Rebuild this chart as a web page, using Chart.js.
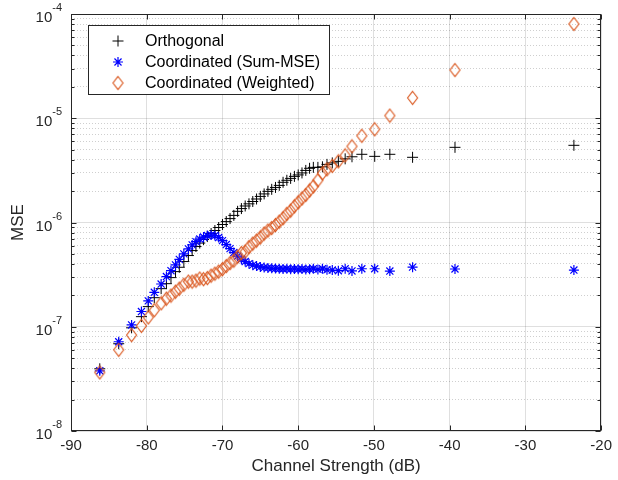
<!DOCTYPE html>
<html>
<head>
<meta charset="utf-8">
<script src="https://cdn.jsdelivr.net/npm/chart.js@4.4.1/dist/chart.umd.min.js"></script>
<style>
  html, body { margin: 0; padding: 0; background: #fff; }
  canvas { display: block; }
</style>
</head>
<body>
<canvas id="mseChart" width="618" height="480"></canvas>
<script>
// Channel strength in dB (x values shared by all three series)
const channelStrength = [
    -86.2, -83.7, -82.0, -80.7, -79.8, -79.0, -78.1, -77.4, -76.8, -76.2, -75.7, -75.1, -74.5, -74.0,
    -73.5, -73.0, -72.5, -72.0, -71.5, -71.0, -70.5, -70.0, -69.5, -69.0, -68.5, -68.0, -67.5, -67.0,
    -66.5, -66.0, -65.5, -65.0, -64.5, -64.0, -63.5, -63.0, -62.5, -62.0, -61.5, -61.0, -60.5, -60.0,
    -59.5, -59.0, -58.5,
    -58.0, -57.4, -56.8, -56.2, -55.5, -54.7, -53.8, -52.9, -51.6, -49.9, -47.9, -44.9, -39.3, -23.6
];

// MSE values
const orthogonalMse = [
    3.95e-8, 6.87e-8, 9.77e-8, 1.25e-7, 1.56e-7, 1.90e-7, 2.32e-7, 2.59e-7, 2.96e-7, 3.38e-7, 3.72e-7, 4.22e-7, 4.82e-7, 5.38e-7,
    5.88e-7, 6.35e-7, 6.87e-7, 7.33e-7, 7.84e-7, 8.38e-7, 8.95e-7, 9.57e-7, 1.02e-6, 1.09e-6, 1.17e-6, 1.28e-6, 1.36e-6, 1.44e-6,
    1.51e-6, 1.59e-6, 1.68e-6, 1.78e-6, 1.88e-6, 1.99e-6, 2.08e-6, 2.17e-6, 2.27e-6, 2.43e-6, 2.54e-6, 2.65e-6, 2.77e-6, 2.86e-6,
    2.99e-6, 3.16e-6, 3.31e-6,
    3.38e-6, 3.38e-6, 3.42e-6, 3.61e-6, 3.73e-6, 3.86e-6, 4.08e-6, 4.27e-6, 4.51e-6, 4.31e-6, 4.51e-6, 4.22e-6, 5.26e-6, 5.50e-6
];

const sumMse = [
    3.78e-8, 7.18e-8, 1.04e-7, 1.40e-7, 1.77e-7, 2.14e-7, 2.57e-7, 3.03e-7, 3.45e-7, 3.92e-7, 4.43e-7, 5.00e-7, 5.58e-7, 6.10e-7,
    6.56e-7, 6.94e-7, 7.25e-7, 7.50e-7, 7.58e-7, 7.50e-7, 7.17e-7, 6.70e-7, 6.14e-7, 5.62e-7, 5.15e-7, 4.76e-7, 4.45e-7, 4.22e-7,
    4.03e-7, 3.90e-7, 3.82e-7, 3.75e-7, 3.70e-7, 3.67e-7, 3.64e-7, 3.62e-7, 3.60e-7, 3.58e-7, 3.60e-7, 3.57e-7, 3.59e-7, 3.56e-7,
    3.58e-7, 3.55e-7, 3.57e-7,
    3.60e-7, 3.55e-7, 3.60e-7, 3.52e-7, 3.50e-7, 3.45e-7, 3.60e-7, 3.43e-7, 3.60e-7, 3.60e-7, 3.42e-7, 3.73e-7, 3.58e-7, 3.50e-7
];

const weightedMse = [
    3.65e-8, 6.01e-8, 8.32e-8, 1.02e-7, 1.23e-7, 1.44e-7, 1.68e-7, 1.86e-7, 1.99e-7, 2.17e-7, 2.32e-7, 2.53e-7, 2.71e-7, 2.71e-7,
    2.77e-7, 2.90e-7, 2.86e-7, 2.93e-7, 3.09e-7, 3.23e-7, 3.38e-7, 3.57e-7, 3.82e-7, 4.08e-7, 4.31e-7, 4.71e-7, 5.09e-7, 5.26e-7,
    5.81e-7, 6.28e-7, 6.71e-7, 7.18e-7, 7.84e-7, 8.38e-7, 8.85e-7, 9.46e-7, 1.02e-6, 1.10e-6, 1.21e-6, 1.30e-6, 1.43e-6, 1.56e-6,
    1.70e-6, 1.84e-6, 2.03e-6,
    2.22e-6, 2.54e-6, 2.96e-6, 3.24e-6, 3.49e-6, 3.86e-6, 4.41e-6, 5.38e-6, 6.79e-6, 7.84e-6, 1.06e-5, 1.57e-5, 2.90e-5, 8.02e-5
];

// Axis ticks
const xTicks = [-90, -80, -70, -60, -50, -40, -30, -20];
const yDecades = [1e-8, 1e-7, 1e-6, 1e-5, 1e-4];
const yTickBase = '10';
const yTickExponents = ['-8', '-7', '-6', '-5', '-4'];
const minorSteps = [2, 3, 4, 5, 6, 7, 8, 9];

const seriesLabels = ['Orthogonal', 'Coordinated (Sum-MSE)', 'Coordinated (Weighted)'];

const toPoints = ys => channelStrength.map((x, i) => ({ x: x, y: ys[i] }));

const axisColor = '#262626';
const fontFamily = '"Liberation Sans", Arial, Helvetica, sans-serif';
const majorGrid = 'rgba(38,38,38,0.15)';
const minorGrid = 'rgba(38,38,38,0.22)';

Chart.defaults.font.family = fontFamily;
Chart.defaults.color = axisColor;

// matlab diamonds are a bit taller than wide
const diamond = document.createElement('canvas');
diamond.width = 13;
diamond.height = 16;
const dctx = diamond.getContext('2d');
dctx.strokeStyle = '#d95319';
dctx.lineWidth = 1.1;
dctx.beginPath();
dctx.moveTo(6.5, 1.5);
dctx.lineTo(11.5, 8);
dctx.lineTo(6.5, 14.5);
dctx.lineTo(1.5, 8);
dctx.closePath();
dctx.stroke();

// box round the axes with inward tick marks, and 10^n labels
const axisFrame = {
    id: 'axisFrame',
    beforeDatasetsDraw(chart) {
        const { ctx, chartArea: a, scales } = chart;
        const L = Math.round(a.left) + 0.5, R = Math.round(a.right) - 0.5;
        const T = Math.round(a.top) + 0.5, B = Math.round(a.bottom) - 0.5;
        ctx.save();
        ctx.strokeStyle = axisColor;
        ctx.lineWidth = 1;
        ctx.beginPath();
        scales.x.ticks.forEach(t => {
            const px = Math.round(scales.x.getPixelForValue(t.value)) + 0.5;
            ctx.moveTo(px, B); ctx.lineTo(px, B - 5);
            ctx.moveTo(px, T); ctx.lineTo(px, T + 5);
        });
        scales.y.ticks.forEach(t => {
            const py = Math.round(scales.y.getPixelForValue(t.value)) + 0.5;
            ctx.moveTo(L, py); ctx.lineTo(L + 5, py);
            ctx.moveTo(R, py); ctx.lineTo(R - 5, py);
        });
        scales.yMinor.ticks.forEach(t => {
            const py = Math.round(scales.yMinor.getPixelForValue(t.value)) + 0.5;
            ctx.moveTo(L, py); ctx.lineTo(L + 3, py);
            ctx.moveTo(R, py); ctx.lineTo(R - 3, py);
        });
        ctx.stroke();
        ctx.strokeRect(L, T, R - L, B - T);

        // y tick labels with raised exponent
        ctx.fillStyle = axisColor;
        ctx.textAlign = 'left';
        ctx.textBaseline = 'alphabetic';
        scales.y.ticks.forEach((t, i) => {
            const py = scales.y.getPixelForValue(t.value);
            ctx.font = '15px ' + fontFamily;
            const wBase = ctx.measureText(yTickBase).width;
            ctx.font = '11px ' + fontFamily;
            const wExp = ctx.measureText(yTickExponents[i]).width;
            const x0 = a.left - 9 - wBase - wExp;
            ctx.font = '15px ' + fontFamily;
            ctx.fillText(yTickBase, x0, py + 8);
            ctx.font = '11px ' + fontFamily;
            ctx.fillText(yTickExponents[i], x0 + wBase, py - 3);
        });
        ctx.restore();
    }
};

// legend box in the upper left corner of the axes
const boxLegend = {
    id: 'boxLegend',
    afterDatasetsDraw(chart) {
        const ctx = chart.ctx;
        ctx.save();
        ctx.fillStyle = '#ffffff';
        ctx.fillRect(88, 25, 241, 69);
        ctx.strokeStyle = axisColor;
        ctx.lineWidth = 1;
        ctx.strokeRect(88.5, 25.5, 241, 69);
        ctx.font = '16px ' + fontFamily;
        ctx.textBaseline = 'middle';
        chart.data.datasets.forEach((ds, i) => {
            const y = 41 + i * 21;
            ctx.strokeStyle = ds.borderColor;
            ctx.fillStyle = 'rgba(0,0,0,0)';
            ctx.lineWidth = ds.borderWidth;
            Chart.helpers.drawPoint(ctx, {
                pointStyle: ds.pointStyle, radius: ds.pointRadius, rotation: 0, borderWidth: ds.borderWidth
            }, 118, y);
            ctx.fillStyle = '#000000';
            ctx.fillText(ds.label, 145, y + 1);
        });
        ctx.restore();
    }
};

new Chart(document.getElementById('mseChart'), {
    type: 'scatter',
    data: {
        datasets: [{
            label: seriesLabels[0],
            data: toPoints(orthogonalMse),
            pointStyle: 'cross',
            pointRadius: 5.5,
            borderColor: '#000000',
            backgroundColor: 'rgba(0,0,0,0)',
            borderWidth: 1,
            order: 3
        }, {
            label: seriesLabels[1],
            data: toPoints(sumMse),
            pointStyle: 'star',
            pointRadius: 5,
            borderColor: '#0000ff',
            backgroundColor: 'rgba(0,0,0,0)',
            borderWidth: 1.2,
            order: 2
        }, {
            label: seriesLabels[2],
            data: toPoints(weightedMse),
            pointStyle: diamond,
            pointRadius: 6,
            borderColor: '#d95319',
            backgroundColor: 'rgba(0,0,0,0)',
            borderWidth: 1,
            order: 1
        }]
    },
    options: {
        responsive: false,
        animation: false,
        layout: { padding: { left: 0, right: 13, top: 14, bottom: 0 } },
        plugins: {
            legend: { display: false },
            tooltip: { enabled: false }
        },
        elements: { point: { hoverRadius: 5 } },
        scales: {
            x: {
                type: 'linear',
                min: -90,
                max: -20,
                afterBuildTicks: scale => { scale.ticks = xTicks.map(v => ({ value: v })); },
                afterFit: scale => { scale.height = 49; },
                grid: { color: majorGrid, drawTicks: false },
                border: { display: false },
                ticks: { font: { size: 15 }, padding: 6, color: axisColor },
                title: {
                    display: true,
                    text: 'Channel Strength (dB)',
                    font: { size: 17 },
                    padding: { top: 0, bottom: 3 },
                    color: axisColor
                }
            },
            y: {
                type: 'logarithmic',
                position: 'left',
                min: 1e-8,
                max: 1e-4,
                afterBuildTicks: scale => { scale.ticks = yDecades.map(v => ({ value: v })); },
                afterFit: scale => { scale.width = 71; },
                grid: { color: majorGrid, drawTicks: false },
                border: { display: false },
                ticks: { display: false, autoSkip: false },
                title: {
                    display: true,
                    text: 'MSE',
                    font: { size: 17 },
                    padding: { top: 8, bottom: 0 },
                    color: axisColor
                }
            },
            yMinor: {
                type: 'logarithmic',
                position: 'left',
                min: 1e-8,
                max: 1e-4,
                afterBuildTicks: scale => {
                    const ticks = [];
                    yDecades.slice(0, -1).forEach(d => minorSteps.forEach(m => ticks.push({ value: m * d })));
                    scale.ticks = ticks;
                },
                afterFit: scale => { scale.width = 0; },
                grid: { color: minorGrid, drawTicks: false },
                border: { display: false, dash: [1, 2] },
                ticks: { display: false }
            }
        }
    },
    plugins: [axisFrame, boxLegend]
});
</script>
</body>
</html>
